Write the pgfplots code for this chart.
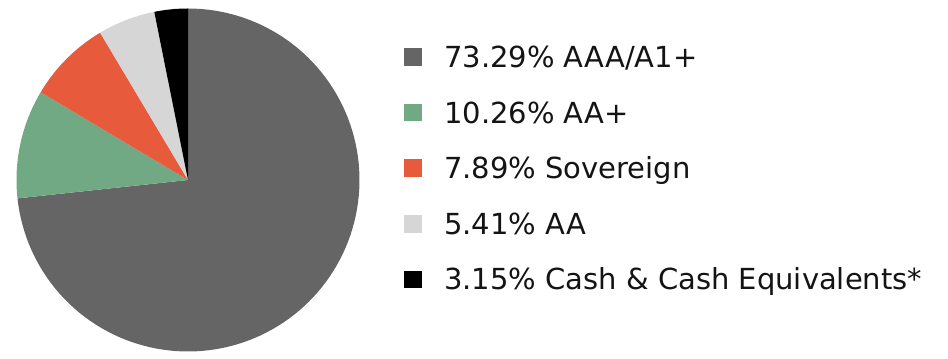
\documentclass[border=0pt]{standalone}
\usepackage{pgfplots}
\pgfplotsset{compat=1.18}
\usepackage{fontspec}
\setmainfont{DejaVu Sans}
\definecolor{cA}{HTML}{656565}
\definecolor{cB}{HTML}{72A985}
\definecolor{cC}{HTML}{E75A3C}
\definecolor{cD}{HTML}{D6D6D6}
\definecolor{cE}{HTML}{000000}
\definecolor{txt}{HTML}{141414}
% shares in percent
\def\pA{73.29}\def\pB{10.26}\def\pC{7.89}\def\pD{5.41}\def\pE{3.15}
\begin{document}
\begin{tikzpicture}
\begin{axis}[
  width=948bp, height=359bp, scale only axis,
  xmin=0, xmax=948, ymin=0, ymax=359,
  hide axis, clip=false,
  legend cell align=left,
  legend image code/.code={\fill[#1] (0bp,-8.75bp) rectangle (17.5bp,8.75bp);},
  legend style={at={(axis cs:404,190.75)}, anchor=west, draw=none, fill=none,
    inner sep=0pt, row sep=34.5bp, font=\fontsize{29bp}{34bp}\selectfont, text=txt,
    nodes={inner sep=0pt, text height=21.1bp, text depth=0bp},
    /tikz/every odd column/.append style={column sep=22.5bp}},
]
\addplot[draw=none, forget plot] coordinates {(0,0) (948,359)};
\addplot[fill=cA, draw=none, domain=0:{3.6*\pA}, samples=120, variable=\t]
  ({188+171.5*sin(t)},{179+171.5*cos(t)}) -- (axis cs:188,179) -- cycle;
\addlegendentry{73.29\% AAA/A1+}
\addplot[fill=cB, draw=none, domain={3.6*\pA}:{3.6*(\pA+\pB)}, samples=30, variable=\t]
  ({188+171.5*sin(t)},{179+171.5*cos(t)}) -- (axis cs:188,179) -- cycle;
\addlegendentry{10.26\% AA+}
\addplot[fill=cC, draw=none, domain={3.6*(\pA+\pB)}:{3.6*(\pA+\pB+\pC)}, samples=30, variable=\t]
  ({188+171.5*sin(t)},{179+171.5*cos(t)}) -- (axis cs:188,179) -- cycle;
\addlegendentry{7.89\% Sovereign}
\addplot[fill=cD, draw=none, domain={3.6*(\pA+\pB+\pC)}:{3.6*(\pA+\pB+\pC+\pD)}, samples=20, variable=\t]
  ({188+171.5*sin(t)},{179+171.5*cos(t)}) -- (axis cs:188,179) -- cycle;
\addlegendentry{5.41\% AA}
\addplot[fill=cE, draw=none, domain={3.6*(\pA+\pB+\pC+\pD)}:360, samples=15, variable=\t]
  ({188+171.5*sin(t)},{179+171.5*cos(t)}) -- (axis cs:188,179) -- cycle;
\addlegendentry{3.15\% Cash \& Cash Equivalents*}
\end{axis}
\end{tikzpicture}
\end{document}
